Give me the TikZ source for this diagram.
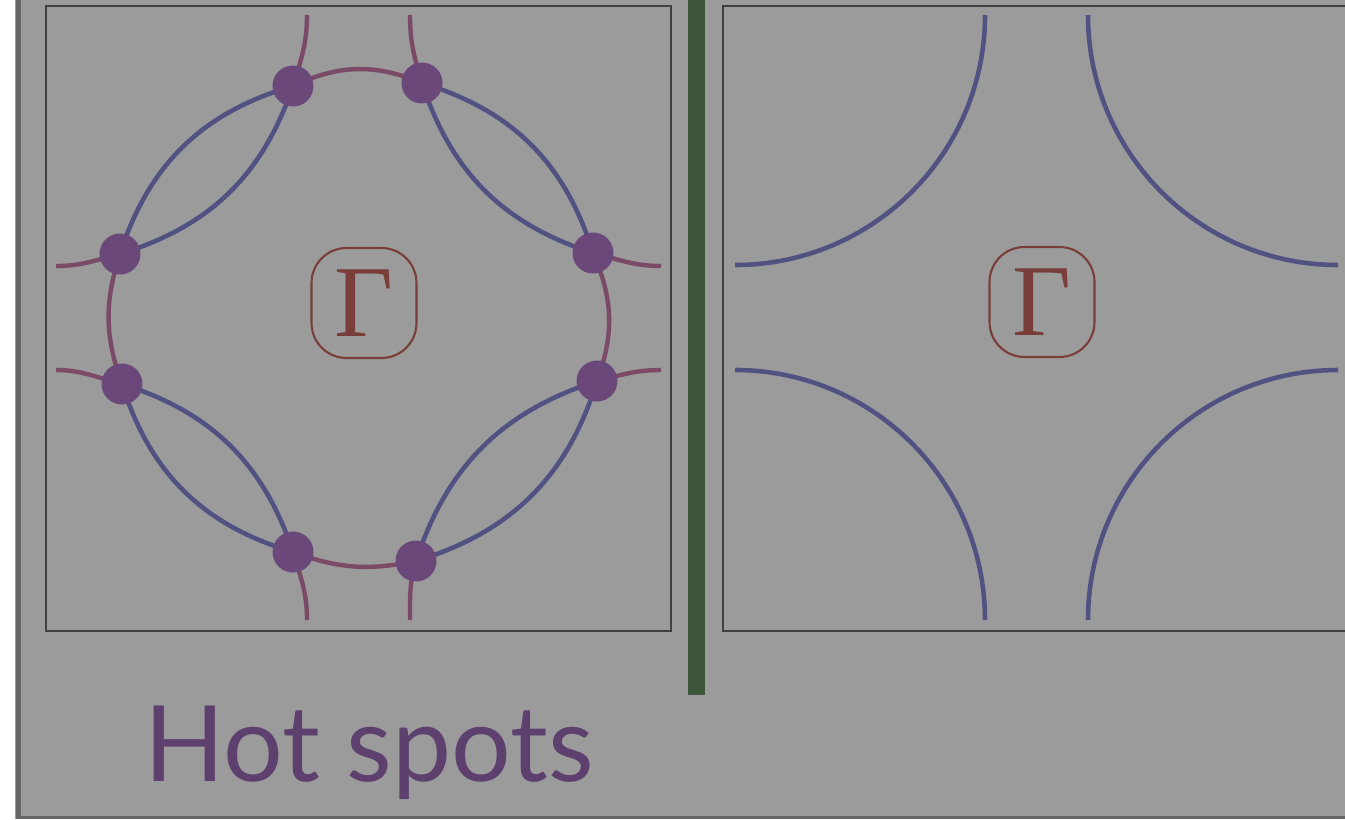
\documentclass[tikz,border=0pt]{standalone}
\usepackage{fontspec}
\newfontfamily\labelfont{Lato}
\newfontfamily\greekfont{Liberation Serif}

\definecolor{slidegray}{HTML}{9B9B9B}
\definecolor{framegray}{HTML}{666666}
\definecolor{boxgray}{HTML}{404040}
\definecolor{fsblue}{HTML}{525282}
\definecolor{fsred}{HTML}{7A4A66}
\definecolor{spotpurple}{HTML}{6A487A}
\definecolor{gammared}{HTML}{7A3E3A}
\definecolor{titlepurple}{HTML}{5E406E}
\definecolor{bargreen}{HTML}{3C553B}

\begin{document}
\begin{tikzpicture}[
    x=0.02cm, y=0.02cm,
    fs line/.style={fsblue, line width=2.6pt},
    folded line/.style={fsred, line width=2.5pt},
    hot dot/.style={circle, fill=spotpurple, inner sep=0pt, minimum size=0.82cm},
    gamma box/.style={draw=gammared, line width=1.2pt, rounded corners=0.7cm, minimum width=2.1cm, minimum height=2.2cm, inner sep=0pt, text=gammared, font=\greekfont\fontsize{58}{62}\selectfont},
    zone box/.style={boxgray, line width=1.2pt},
]

% === BACKGROUND ===
\useasboundingbox (0,0) rectangle (1345,-819);
\fill[white] (0,0) rectangle (1345,-819);
\fill[slidegray] (15,0) rectangle (1345,-819);
\draw[framegray, line width=2.8pt] (18.5,0) -- (18.5,-817.5);
\draw[framegray, line width=1.7pt] (16,-817.5) -- (1345,-817.5);

% divider
\fill[bargreen] (688,0) rectangle (705,-695);

% === LEFT: folded zone with hot spots ===
\draw[zone box] (46,-6) rectangle (671,-631);

% hot spot positions
\coordinate (nl) at (293,-86);
\coordinate (nr) at (422,-83);
\coordinate (wu) at (120,-254);
\coordinate (wd) at (122,-384);
\coordinate (eu) at (593,-253);
\coordinate (ed) at (597,-381);
\coordinate (sl) at (293,-552);
\coordinate (sr) at (416,-561);

% free ends at the zone edge
\coordinate (end nl) at (307,-15);
\coordinate (end nr) at (410,-15);
\coordinate (end wu) at (56,-266);
\coordinate (end wd) at (56,-370);
\coordinate (end eu) at (661,-266);
\coordinate (end ed) at (661,-370);
\coordinate (end sl) at (307,-620);
\coordinate (end sr) at (410,-620);

% pockets
\draw[fs line] (wu) to[bend left=28] (nl);
\draw[fs line] (wu) to[bend right=27] (nl);
\draw[fs line] (nr) to[bend left=28] (eu);
\draw[fs line] (nr) to[bend right=27] (eu);
\draw[fs line] (ed) to[bend left=28] (sr);
\draw[fs line] (ed) to[bend right=27] (sr);
\draw[fs line] (sl) to[bend left=28] (wd);
\draw[fs line] (sl) to[bend right=27] (wd);

% gapped parts
\draw[folded line] (nl) to[bend left=24] (nr);
\draw[folded line] (wu) to[bend right=19] (wd);
\draw[folded line] (eu) to[bend left=22] (ed);
\draw[folded line] (sl) to[bend right=16] (sr);
\draw[folded line] (nl) to[out=73, in=-90] (end nl);
\draw[folded line] (nr) to[out=107, in=-90] (end nr);
\draw[folded line] (wu) to[out=194, in=0] (end wu);
\draw[folded line] (wd) to[out=166, in=0] (end wd);
\draw[folded line] (eu) to[out=-14, in=180] (end eu);
\draw[folded line] (ed) to[out=14, in=180] (end ed);
\draw[folded line] (sl) to[out=-73, in=90] (end sl);
\draw[folded line] (sr) to[out=-107, in=90] (end sr);

% dots
\foreach \p in {nl,nr,wu,wd,eu,ed,sl,sr}
    \node[hot dot] (\p-dot) at (\p) {};

\node[gamma box] (gamma left) at (364,-303) {Γ};

% === RIGHT: bare Fermi surface ===
\draw[zone box] (1350,-6) -- (723,-6) -- (723,-631) -- (1350,-631);

\draw[fs line] (985,-15) arc[start angle=0, end angle=-90, radius=250];
\draw[fs line] (1088,-15) arc[start angle=180, end angle=270, radius=250];
\draw[fs line] (735,-370) arc[start angle=90, end angle=0, radius=250];
\draw[fs line] (1088,-620) arc[start angle=180, end angle=90, radius=250];

\node[gamma box] (gamma right) at (1042,-302) {Γ};

% title
\node[anchor=base west, inner sep=0pt, text=titlepurple, font=\labelfont\fontsize{60}{70}\selectfont] (title) at (144,-781) {Hot spots};

\end{tikzpicture}
\end{document}
